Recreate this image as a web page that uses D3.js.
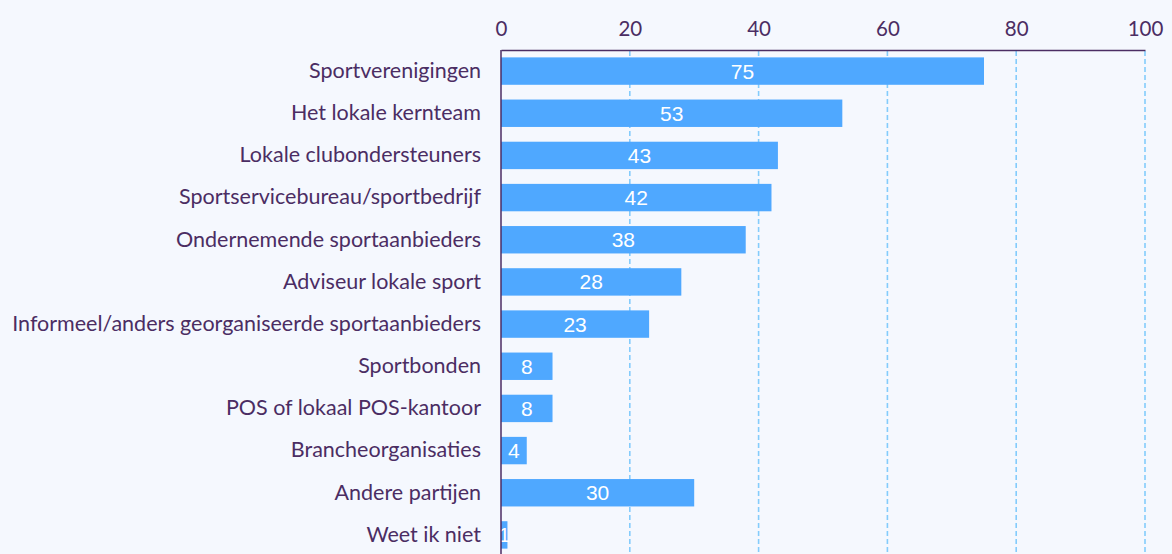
<!DOCTYPE html>
<html>
<head>
<meta charset="utf-8">
<script src="https://cdn.jsdelivr.net/npm/d3@7"></script>
<style>
  html, body { margin: 0; padding: 0; background: #f5f8fe; }
  svg { display: block; }
</style>
</head>
<body>
<div id="chart"></div>
<script>
// categories and values (percent)
var categories = [
  'Sportverenigingen',
  'Het lokale kernteam',
  'Lokale clubondersteuners',
  'Sportservicebureau/sportbedrijf',
  'Ondernemende sportaanbieders',
  'Adviseur lokale sport',
  'Informeel/anders georganiseerde sportaanbieders',
  'Sportbonden',
  'POS of lokaal POS-kantoor',
  'Brancheorganisaties',
  'Andere partijen',
  'Weet ik niet'
];
var values = [75, 53, 43, 42, 38, 28, 23, 8, 8, 4, 30, 1];
var ticks = [0, 20, 40, 60, 80, 100];

(function() {
  var width = 1172, height = 554;
  var TEXT = '#4b2d63';

  var svg = d3.select('#chart').append('svg')
    .attr('width', width)
    .attr('height', height);

  var x = d3.scaleLinear().domain([0, 100]).range([501, 1145]);
  var y = d3.scaleBand().domain(categories).range([50, 556]).paddingInner(0.35).paddingOuter(0.175);

  // gridlines
  svg.append('g')
    .selectAll('line')
    .data(ticks.filter(function(t) { return t > 0; }))
    .join('line')
    .attr('x1', function(d) { return x(d); })
    .attr('x2', function(d) { return x(d); })
    .attr('y1', 51)
    .attr('y2', height)
    .attr('stroke', '#84ccfc')
    .attr('stroke-width', 1.6)
    .attr('stroke-dasharray', '5,3');

  // bars
  svg.append('g')
    .selectAll('rect')
    .data(values)
    .join('rect')
    .attr('x', x(0))
    .attr('y', function(d, i) { return y(categories[i]); })
    .attr('width', function(d) { return x(d) - x(0); })
    .attr('height', y.bandwidth())
    .attr('fill', '#4fa8ff');

  // value labels
  svg.append('g')
    .selectAll('text')
    .data(values)
    .join('text')
    .attr('x', function(d) { return (x(d) + x(0)) / 2; })
    .attr('y', function(d, i) { return y(categories[i]) + y.bandwidth() / 2; })
    .attr('dy', '0.36em')
    .attr('text-anchor', 'middle')
    .attr('fill', '#ffffff')
    .attr('font-family', 'Liberation Sans, Arial, sans-serif')
    .attr('font-size', '21px')
    .text(function(d) { return d; });

  // top axis
  var xAxis = svg.append('g')
    .attr('transform', 'translate(0,50)')
    .call(d3.axisTop(x).tickValues(ticks).tickSize(0).tickPadding(14));
  xAxis.select('.domain').attr('stroke', TEXT).attr('stroke-width', 1.5);
  xAxis.selectAll('text')
    .attr('fill', TEXT)
    .attr('font-family', 'Lato, sans-serif')
    .attr('font-size', '20.5px');

  // left axis
  var yAxis = svg.append('g')
    .attr('transform', 'translate(' + x(0) + ',0)')
    .call(d3.axisLeft(y).tickSize(0).tickPadding(20));
  yAxis.select('.domain').attr('stroke', TEXT).attr('stroke-width', 1.5)
    .attr('d', 'M0,50V' + height);
  yAxis.selectAll('text')
    .attr('fill', TEXT)
    .attr('font-family', 'Lato, sans-serif')
    .attr('font-size', '21.5px');
})();
</script>
</body>
</html>
